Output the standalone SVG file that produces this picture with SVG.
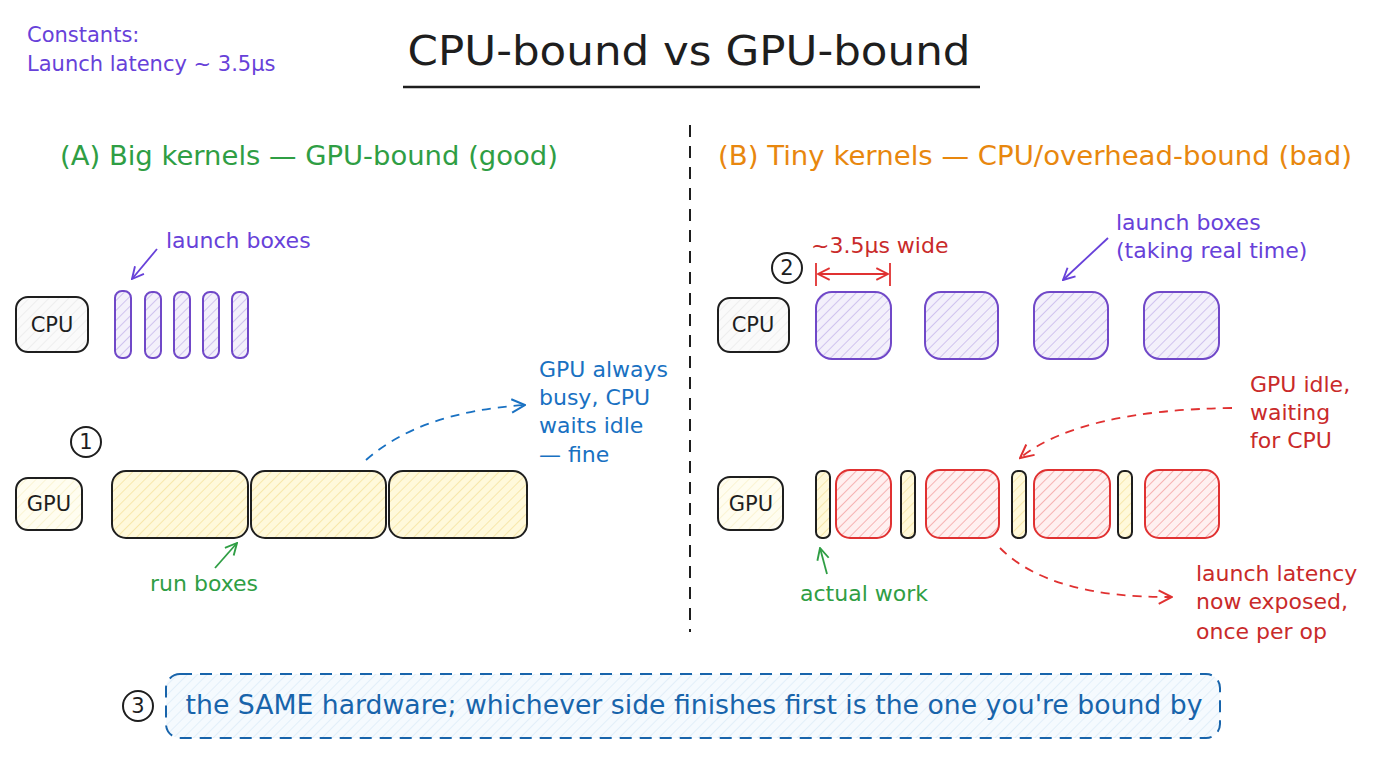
<svg xmlns="http://www.w3.org/2000/svg" width="1376" height="768" viewBox="0 0 1376 768">
<style>
text{font-family:"DejaVu Sans","Noto Sans",sans-serif}
.t{font-size:22px}
.pur{fill:#6741d9}
.grn{fill:#2f9e44}
.blu{fill:#1971c2}
.red{fill:#c92a2a}
.blk{fill:#1e1e1e}
.node{stroke:#1e1e1e;stroke-width:2}
.nt{font-size:21px;text-anchor:middle;fill:#1e1e1e}
.lb{stroke:#7048c8;stroke-width:2;fill:url(#hp)}
.rb{stroke:#1e1e1e;stroke-width:2;fill:url(#hy)}
.idle{stroke:#e03131;stroke-width:2;fill:url(#hr)}
.num{fill:#fff;stroke:#1e1e1e;stroke-width:2}
.numt{font-size:21px;text-anchor:middle;fill:#1e1e1e}
</style>
<defs>
<pattern id="hp" width="7" height="7" patternUnits="userSpaceOnUse" patternTransform="rotate(45)"><rect width="7" height="7" fill="#f3f0fb"/><line x1="0" y1="0" x2="0" y2="7" stroke="#b8a5e6" stroke-width="1.2"/></pattern>
<pattern id="hy" width="7" height="7" patternUnits="userSpaceOnUse" patternTransform="rotate(45)"><rect width="7" height="7" fill="#fff9db"/><line x1="0" y1="0" x2="0" y2="7" stroke="#f2dc8a" stroke-width="1.2"/></pattern>
<pattern id="hr" width="7" height="7" patternUnits="userSpaceOnUse" patternTransform="rotate(45)"><rect width="7" height="7" fill="#fff0f0"/><line x1="0" y1="0" x2="0" y2="7" stroke="#f08a8a" stroke-width="1.2"/></pattern>
<pattern id="hg" width="7" height="7" patternUnits="userSpaceOnUse" patternTransform="rotate(45)"><rect width="7" height="7" fill="#fafafa"/><line x1="0" y1="0" x2="0" y2="7" stroke="#e6e6e6" stroke-width="1.2"/></pattern>
<pattern id="hyl" width="7" height="7" patternUnits="userSpaceOnUse" patternTransform="rotate(45)"><rect width="7" height="7" fill="#fffdf0"/><line x1="0" y1="0" x2="0" y2="7" stroke="#f7eec0" stroke-width="1.2"/></pattern>
<pattern id="hb" width="7" height="7" patternUnits="userSpaceOnUse" patternTransform="rotate(45)"><rect width="7" height="7" fill="#f5fafe"/><line x1="0" y1="0" x2="0" y2="7" stroke="#d6e8f7" stroke-width="1.2"/></pattern>
<marker id="ap" viewBox="0 0 12 12" refX="11" refY="6" markerWidth="14" markerHeight="14" markerUnits="userSpaceOnUse" orient="auto"><path d="M1,1 L11,6 L1,11" fill="none" stroke="#6741d9" stroke-width="1.6"/></marker>
<marker id="ag" viewBox="0 0 12 12" refX="11" refY="6" markerWidth="14" markerHeight="14" markerUnits="userSpaceOnUse" orient="auto"><path d="M1,1 L11,6 L1,11" fill="none" stroke="#2f9e44" stroke-width="1.6"/></marker>
<marker id="ab" viewBox="0 0 12 12" refX="11" refY="6" markerWidth="16" markerHeight="16" markerUnits="userSpaceOnUse" orient="auto"><path d="M1,1 L11,6 L1,11" fill="none" stroke="#1971c2" stroke-width="1.5"/></marker>
<marker id="ar" viewBox="0 0 12 12" refX="11" refY="6" markerWidth="16" markerHeight="16" markerUnits="userSpaceOnUse" orient="auto"><path d="M1,1 L11,6 L1,11" fill="none" stroke="#e03131" stroke-width="1.5"/></marker>
<marker id="ard" viewBox="0 0 12 12" refX="11" refY="6" markerWidth="14" markerHeight="14" markerUnits="userSpaceOnUse" orient="auto-start-reverse"><path d="M1,1 L11,6 L1,11" fill="none" stroke="#e03131" stroke-width="1.6"/></marker>
</defs>
<rect width="1376" height="768" fill="#ffffff"/>

<g id="constants">
<text x="27" y="42" font-size="21" class="pur">Constants:</text>
<text x="27" y="71" font-size="21" class="pur">Launch latency ~ 3.5μs</text>
</g>

<g id="title">
<text x="689" y="65" font-size="40" text-anchor="middle" class="blk" textLength="563" lengthAdjust="spacingAndGlyphs">CPU-bound vs GPU-bound</text>
<line x1="403" y1="87" x2="980" y2="87" stroke="#1e1e1e" stroke-width="2.5"/>
</g>

<g id="divider"><line x1="690" y1="125" x2="690" y2="632" stroke="#1e1e1e" stroke-width="2" stroke-dasharray="12 9"/></g>

<g id="headerA"><text x="60" y="165" font-size="26" class="grn" textLength="498" lengthAdjust="spacingAndGlyphs">(A) Big kernels — GPU-bound (good)</text></g>
<g id="headerB"><text x="718" y="165" font-size="26" fill="#e8870e" textLength="634" lengthAdjust="spacingAndGlyphs">(B) Tiny kernels — CPU/overhead-bound (bad)</text></g>

<!-- Left side -->
<g id="cpuA"><rect x="16" y="297" width="72" height="55" rx="12" fill="url(#hg)" class="node"/><text x="52" y="332" class="nt">CPU</text></g>
<g id="launchA">
<rect x="115" y="291" width="16" height="67" rx="7" class="lb"/>
<rect x="145" y="292" width="16" height="66" rx="7" class="lb"/>
<rect x="174" y="292" width="16" height="66" rx="7" class="lb"/>
<rect x="203" y="292" width="16" height="66" rx="7" class="lb"/>
<rect x="232" y="292" width="16" height="66" rx="7" class="lb"/>
</g>
<g id="labelLaunchA"><text x="166" y="248" class="t pur">launch boxes</text></g>

<g id="n1"><circle cx="86" cy="442" r="15" class="num"/><text x="86" y="449" class="numt">1</text></g>
<g id="gpuA"><rect x="16" y="478" width="66" height="52" rx="12" fill="url(#hyl)" class="node"/><text x="49" y="511" class="nt">GPU</text></g>
<g id="runA">
<rect x="112" y="471" width="136" height="67" rx="14" class="rb"/>
<rect x="251" y="471" width="135" height="67" rx="14" class="rb"/>
<rect x="389" y="471" width="138" height="67" rx="14" class="rb"/>
</g>
<g id="labelRun"><text x="150" y="591" class="t grn">run boxes</text></g>
<g id="labelBusy">
<text x="539" y="377" class="t blu">GPU always</text>
<text x="539" y="405" class="t blu">busy, CPU</text>
<text x="539" y="433" class="t blu">waits idle</text>
<text x="539" y="462" class="t blu">— fine</text>
</g>

<!-- Right side -->
<g id="n2"><circle cx="787" cy="268" r="15" class="num"/><text x="787" y="275" class="numt">2</text></g>
<g id="labelWide"><text x="811" y="253" class="t red">~3.5μs wide</text></g>
<g id="cpuB"><rect x="718" y="298" width="71" height="54" rx="12" fill="url(#hg)" class="node"/><text x="753" y="332" class="nt">CPU</text></g>
<g id="launchB">
<rect x="816" y="292" width="75" height="67" rx="16" class="lb"/>
<rect x="925" y="292" width="73" height="67" rx="16" class="lb"/>
<rect x="1034" y="292" width="74" height="67" rx="16" class="lb"/>
<rect x="1144" y="292" width="75" height="67" rx="16" class="lb"/>
</g>
<g id="labelLaunchB">
<text x="1116" y="230" class="t pur">launch boxes</text>
<text x="1116" y="258" class="t pur">(taking real time)</text>
</g>

<g id="gpuB"><rect x="718" y="477" width="65" height="53" rx="12" fill="url(#hyl)" class="node"/><text x="751" y="511" class="nt">GPU</text></g>
<g id="workB">
<rect x="816" y="471" width="14" height="67" rx="6" class="rb"/>
<rect x="901" y="471" width="14" height="67" rx="6" class="rb"/>
<rect x="1012" y="471" width="14" height="67" rx="6" class="rb"/>
<rect x="1118" y="471" width="14" height="67" rx="6" class="rb"/>
</g>
<g id="idleB">
<rect x="836" y="470" width="55" height="68" rx="14" class="idle"/>
<rect x="926" y="470" width="73" height="68" rx="14" class="idle"/>
<rect x="1034" y="470" width="76" height="68" rx="14" class="idle"/>
<rect x="1145" y="470" width="74" height="68" rx="14" class="idle"/>
</g>
<g id="labelIdle">
<text x="1250" y="392" class="t red">GPU idle,</text>
<text x="1250" y="420" class="t red">waiting</text>
<text x="1250" y="448" class="t red">for CPU</text>
</g>
<g id="labelActual"><text x="800" y="601" class="t grn">actual work</text></g>
<g id="labelExposed">
<text x="1196" y="581" class="t red">launch latency</text>
<text x="1196" y="609" class="t red">now exposed,</text>
<text x="1196" y="639" class="t red">once per op</text>
</g>

<g id="n3"><circle cx="138" cy="706" r="15" class="num"/><text x="138" y="713" class="numt">3</text></g>
<g id="banner">
<rect x="166" y="674" width="1054" height="64" rx="14" fill="url(#hb)" stroke="#1864ab" stroke-width="2" stroke-dasharray="12 8"/>
<text x="694" y="714" font-size="26" text-anchor="middle" fill="#1864ab" textLength="1017" lengthAdjust="spacingAndGlyphs">the SAME hardware; whichever side finishes first is the one you're bound by</text>
</g>

<g id="connectors" fill="none" stroke-width="1.8">
<path d="M157 249 L132 279" stroke="#6741d9" marker-end="url(#ap)"/>
<path d="M1108 238 L1063 280" stroke="#6741d9" marker-end="url(#ap)"/>
<path d="M215 568 L237 543" stroke="#2f9e44" marker-end="url(#ag)"/>
<path d="M827 574 L820 548" stroke="#2f9e44" marker-end="url(#ag)"/>
<path d="M366 460 Q 420 412 525 405" stroke="#1971c2" stroke-dasharray="9 7" marker-end="url(#ab)"/>
<path d="M1232 408 Q 1080 410 1020 458" stroke="#e03131" stroke-dasharray="9 7" marker-end="url(#ar)"/>
<path d="M1000 548 Q 1050 598 1172 597" stroke="#e03131" stroke-dasharray="9 7" marker-end="url(#ar)"/>
<path d="M816 263 L816 286 M890 263 L890 286" stroke="#e03131"/>
<path d="M818 274 L888 274" stroke="#e03131" marker-start="url(#ard)" marker-end="url(#ard)"/>
</g>
</svg>
